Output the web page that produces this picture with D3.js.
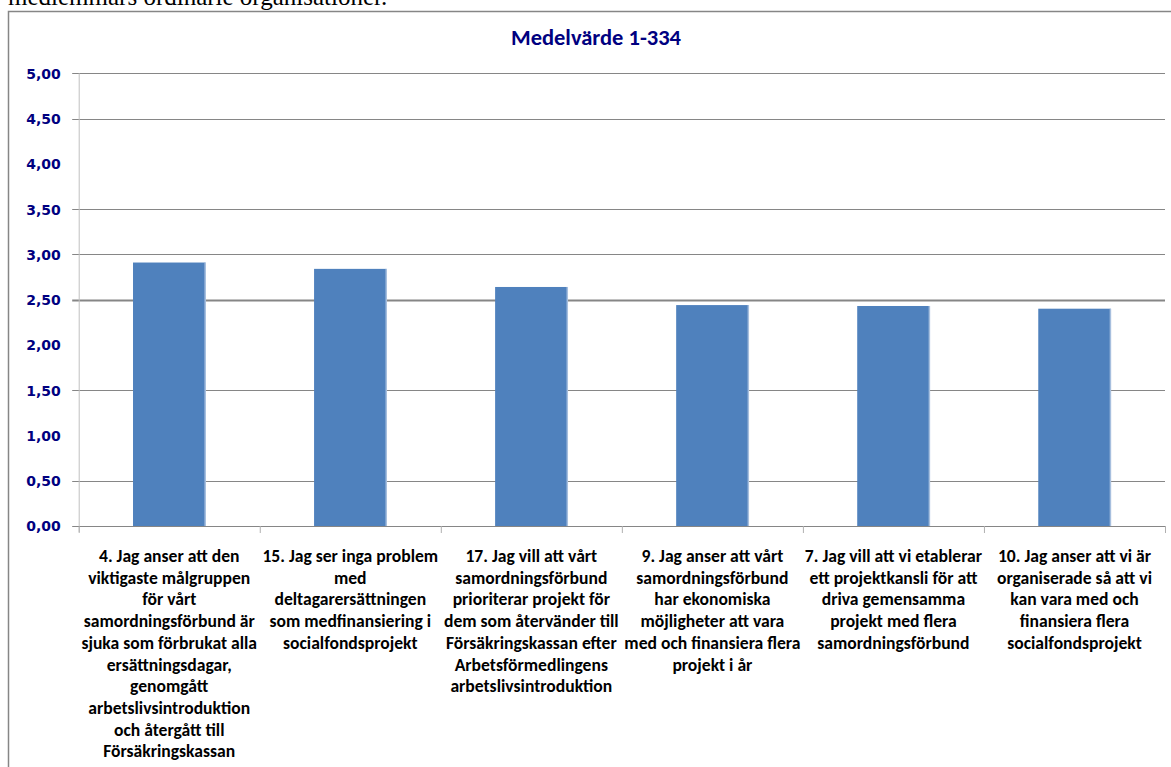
<!DOCTYPE html>
<html>
<head>
<meta charset="utf-8">
<script src="https://cdn.jsdelivr.net/npm/d3@7"></script>
<style>
html,body{margin:0;padding:0;background:#fff;overflow:hidden;}
svg{display:block;}
</style>
</head>
<body>
<svg id="chart" width="1171" height="767"></svg>
<script>
const title = "Medelvärde 1-334";
const headerText = "medlemmars ordinarie organisationer.";
const categories = [
  ["4. Jag anser att den","viktigaste målgruppen","för vårt","samordningsförbund är","sjuka som förbrukat alla","ersättningsdagar,","genomgått","arbetslivsintroduktion","och återgått till","Försäkringskassan"],
  ["15. Jag ser inga problem","med","deltagarersättningen","som medfinansiering i","socialfondsprojekt"],
  ["17. Jag vill att vårt","samordningsförbund","prioriterar projekt för","dem som återvänder till","Försäkringskassan efter","Arbetsförmedlingens","arbetslivsintroduktion"],
  ["9. Jag anser att vårt","samordningsförbund","har ekonomiska","möjligheter att vara","med och finansiera flera","projekt i år"],
  ["7. Jag vill att vi etablerar","ett projektkansli för att","driva gemensamma","projekt med flera","samordningsförbund"],
  ["10. Jag anser att vi är","organiserade så att vi","kan vara med och","finansiera flera","socialfondsprojekt"]
];
const values = [2.91, 2.84, 2.64, 2.44, 2.43, 2.40];
const yTicks = [0, 0.5, 1, 1.5, 2, 2.5, 3, 3.5, 4, 4.5, 5];
const gridValues = [0.5, 1.5, 2.5, 3, 3.5, 4.5, 5];

(function () {
const svg = d3.select("#chart");
const pLeft = 78.7, pRight = 1165, pTop = 73.3, pBottom = 526;

svg.append("text").attr("x", 8).attr("y", 5)
  .attr("font-family", "'Liberation Serif','Times New Roman',serif")
  .attr("font-size", 25).attr("fill", "#000").text(headerText);

svg.append("rect").attr("x", 8.5).attr("y", 11.5).attr("width", 1200).attr("height", 800)
  .attr("fill", "none").attr("stroke", "#868686").attr("stroke-width", 1.5);

const x = d3.scaleBand().domain(d3.range(categories.length)).range([pLeft, pRight]).paddingInner(0.6).paddingOuter(0.3);
const xOuter = d3.scaleBand().domain(d3.range(categories.length)).range([pLeft, pRight]);
const y = d3.scaleLinear().domain([0, 5]).range([pBottom, pTop]);

svg.append("g").selectAll("line").data(gridValues).join("line")
  .attr("x1", pLeft - 6.5).attr("x2", pRight)
  .attr("y1", d => Math.round(y(d)) + 0.5).attr("y2", d => Math.round(y(d)) + 0.5)
  .attr("stroke", "#868686").attr("stroke-width", d => d === 2.5 ? 2 : 1);

const yAxis = d3.axisLeft(y).tickValues(yTicks).tickSize(0).tickPadding(18)
  .tickFormat(d => d3.format(".2f")(d).replace(".", ","));
const gy = svg.append("g").attr("transform", `translate(${pLeft},0)`).call(yAxis);
gy.select(".domain").attr("stroke", "#c0c0c0").attr("d", `M0.5,${pTop}V${pBottom + 6}`);
gy.selectAll("text").attr("font-family", "Verdana, 'DejaVu Sans', sans-serif")
  .attr("font-weight", "bold").attr("font-size", 14).attr("fill", "#000080").attr("dy", "0.35em");

svg.append("g").selectAll("rect").data(values).join("rect")
  .attr("x", (d, i) => x(i)).attr("width", x.bandwidth())
  .attr("y", d => y(d)).attr("height", d => y(0) - y(d))
  .attr("fill", "#4F81BD");
svg.append("g").selectAll("rect").data(values).join("rect")
  .attr("x", (d, i) => x(i) + x.bandwidth() - 1).attr("width", 1.5)
  .attr("y", d => y(d)).attr("height", d => y(0) - y(d))
  .attr("fill", "#A7BFDE");

svg.append("line").attr("x1", pLeft - 6.5).attr("x2", pRight).attr("y1", pBottom + 0.5).attr("y2", pBottom + 0.5)
  .attr("stroke", "#868686");
svg.append("g").selectAll("line").data(d3.range(categories.length + 1)).join("line")
  .attr("x1", i => pLeft + i * xOuter.step() + 0.5).attr("x2", i => pLeft + i * xOuter.step() + 0.5)
  .attr("y1", pBottom).attr("y2", pBottom + 7).attr("stroke", "#b0b0b0");

const lab = svg.append("g").selectAll("text").data(categories).join("text")
  .attr("text-anchor", "middle")
  .attr("font-family", "Carlito, Calibri, 'Open Sans', 'Liberation Sans', sans-serif")
  .attr("font-weight", "bold").attr("font-size", 17.6).attr("fill", "#000");
lab.each(function(lines, i) {
  d3.select(this).selectAll("tspan").data(lines).join("tspan")
    .attr("x", xOuter(i) + xOuter.bandwidth() / 2)
    .attr("y", (d, j) => 562 + j * 21.7)
    .text(d => d);
});

svg.append("text").attr("x", 596).attr("y", 45).attr("text-anchor", "middle")
  .attr("font-family", "Carlito, Calibri, 'Open Sans', 'Liberation Sans', sans-serif")
  .attr("font-weight", "bold").attr("font-size", 22.5).attr("fill", "#000080").text(title);
})();
</script>
</body>
</html>
